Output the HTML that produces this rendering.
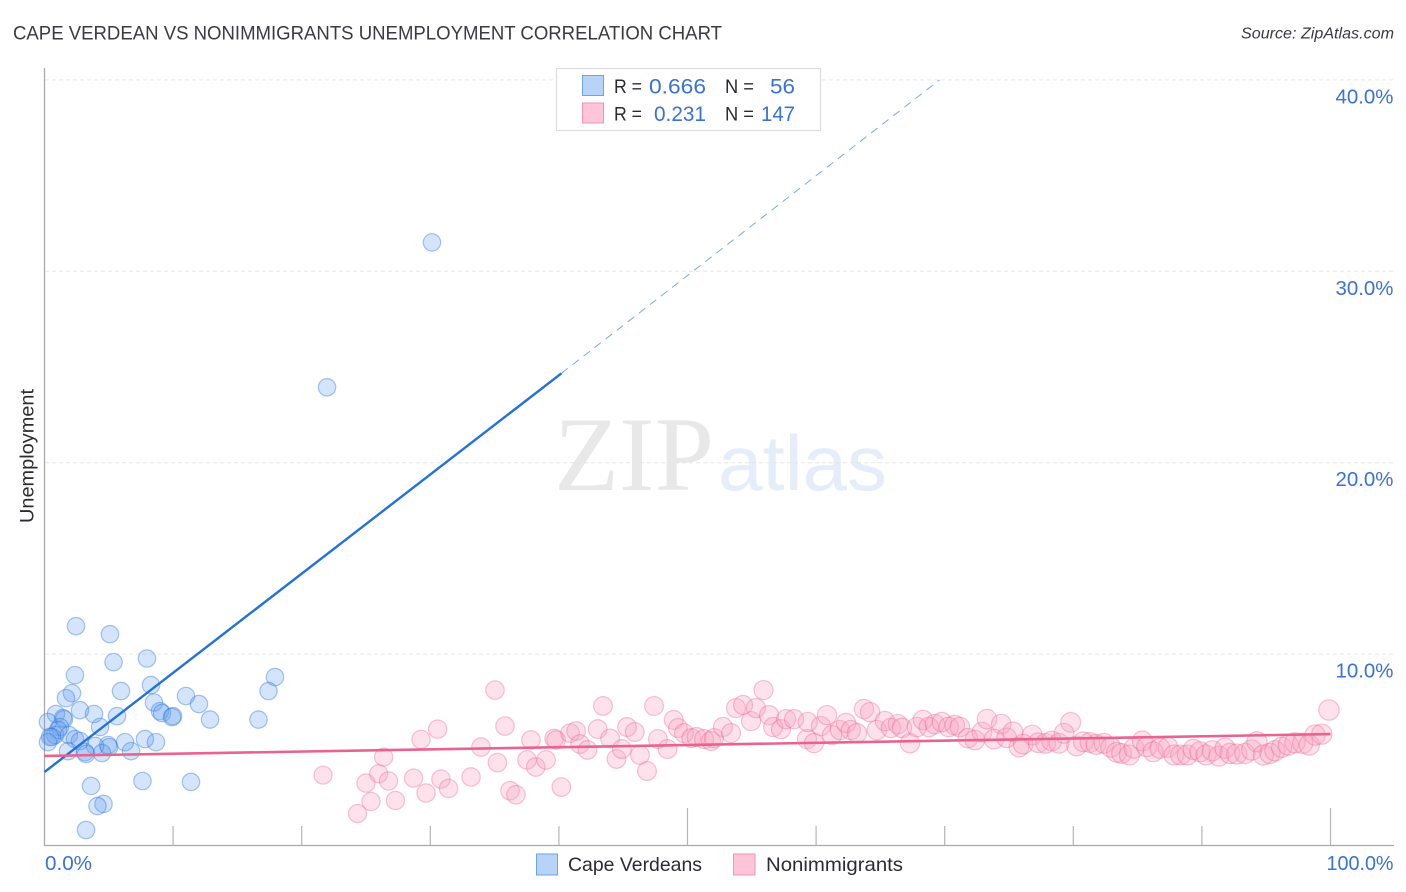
<!DOCTYPE html>
<html><head><meta charset="utf-8"><title>Cape Verdean vs Nonimmigrants Unemployment Correlation Chart</title>
<style>
html,body{margin:0;padding:0;background:#fff;width:1406px;height:892px;overflow:hidden}
svg{display:block;font-family:"Liberation Sans",sans-serif}
</style></head><body>
<svg id="chart" width="1406" height="892" viewBox="0 0 1406 892" xmlns="http://www.w3.org/2000/svg">
<text x="13" y="39.5" font-size="19.5" fill="#3a3a42" textLength="709" lengthAdjust="spacingAndGlyphs">CAPE VERDEAN VS NONIMMIGRANTS UNEMPLOYMENT CORRELATION CHART</text>
<text x="1241" y="38.5" font-size="15.5" font-style="italic" fill="#3a3a42" textLength="153" lengthAdjust="spacingAndGlyphs">Source: ZipAtlas.com</text>
<g>
<text x="554" y="490" font-family="'Liberation Serif',serif" font-size="106" fill="#e8e8e8" textLength="160" lengthAdjust="spacingAndGlyphs">ZIP</text>
<text x="718" y="490" font-size="78" fill="#e4edf9" textLength="169" lengthAdjust="spacingAndGlyphs">atlas</text>
</g>
<g id="grid"></g>
<g id="axes"></g>
<g id="capePoints"></g>
<g id="nonimmPoints"></g>
<g id="trends"></g>
<g id="tickLabels"></g>
<text transform="translate(33.5,456) rotate(-90)" text-anchor="middle" font-size="19" fill="#2b2b33" textLength="134" lengthAdjust="spacingAndGlyphs">Unemployment</text>
<g>
<rect x="556.5" y="68.5" width="264" height="62" fill="#fff" stroke="#dcdcdc" stroke-width="1.2"/>
<rect x="582.5" y="75.5" width="21" height="20" fill="#b7d3f8" stroke="#6ea4e6"/>
<rect x="582.5" y="103" width="21" height="20" fill="#fdc5d7" stroke="#f095b3"/>
<g font-size="19.5" fill="#2b2b33">
<text x="614" y="93" textLength="28" lengthAdjust="spacingAndGlyphs">R =</text>
<text x="725" y="93" textLength="29" lengthAdjust="spacingAndGlyphs">N =</text>
<text x="614" y="120.5" textLength="28" lengthAdjust="spacingAndGlyphs">R =</text>
<text x="725" y="120.5" textLength="29" lengthAdjust="spacingAndGlyphs">N =</text>
</g>
<g font-size="21" fill="#3a72d6" text-anchor="end">
<text x="706" y="93.5" textLength="57" lengthAdjust="spacingAndGlyphs">0.666</text>
<text x="795" y="93.5" textLength="25" lengthAdjust="spacingAndGlyphs">56</text>
<text x="706" y="121" textLength="52" lengthAdjust="spacingAndGlyphs">0.231</text>
<text x="795" y="121" textLength="34" lengthAdjust="spacingAndGlyphs">147</text>
</g>
</g>
<g>
<rect x="536.5" y="854" width="21" height="21" fill="#b7d3f8" stroke="#6ea4e6"/>
<text x="568" y="871" font-size="19.5" fill="#2b2b33" textLength="134" lengthAdjust="spacingAndGlyphs">Cape Verdeans</text>
<rect x="733.5" y="854" width="21.5" height="21" fill="#fdc5d7" stroke="#f095b3"/>
<text x="766" y="871" font-size="19.5" fill="#2b2b33" textLength="137" lengthAdjust="spacingAndGlyphs">Nonimmigrants</text>
</g>
</svg>
<script>
const yTicks = [10, 20, 30, 40];
const yTickLabels = ["10.0%", "20.0%", "30.0%", "40.0%"];
const xTicks = [10, 20, 30, 40, 50, 60, 70, 80, 90, 100];
const xMajorTicks = [50, 100];
const xEndLabels = ["0.0%", "100.0%"];
const capeX = [2.45,5.09,5.37,7.97,2.37,17.92,17.42,5.95,8.28,2.14,1.67,11.0,12.01,8.51,8.98,9.14,9.99,9.91,12.87,16.64,2.76,3.85,5.64,0.89,1.44,1.52,4.32,0.27,1.2,1.05,0.82,0.58,0.43,0.27,1.9,2.37,2.76,7.81,8.67,6.26,4.94,5.02,3.93,1.83,3.15,3.23,4.47,6.73,3.62,7.62,11.39,4.59,4.12,3.23,21.97,30.13];
const capeY = [11.46,11.04,9.58,9.77,8.9,8.8,8.07,8.07,8.38,7.96,7.7,7.81,7.39,7.47,7.02,6.92,6.76,6.71,6.58,6.58,7.07,6.87,6.76,6.87,6.66,6.6,6.19,6.45,6.19,6.03,5.77,5.67,5.67,5.4,5.77,5.56,5.46,5.56,5.4,5.4,5.25,5.14,5.2,4.93,4.88,4.78,4.83,4.93,3.11,3.37,3.32,2.17,2.06,0.81,23.94,31.51];
const nonimmX = [21.66,25.0,25.99,26.75,26.37,25.39,24.34,27.29,28.7,29.67,30.83,31.42,33.17,29.28,30.57,33.94,35.22,35.03,35.81,37.83,37.52,36.2,36.66,38.2,39,40.19,39.63,39.78,40.87,41.34,41.64,42.22,43.02,43.43,43.98,44.48,44.9,45.3,45.9,46.3,46.85,47.4,47.7,48.44,48.93,49.26,49.73,50.3,50.7,51.29,51.83,52.06,52.76,53.38,53.77,54.32,54.94,55.32,55.91,56.34,56.66,57.27,57.66,58.29,59.29,59.84,59.35,60.38,60.85,61.24,61.86,62.33,62.7,63.18,63.72,64.2,64.72,65.35,65.82,66.36,66.68,67.3,67.84,68.31,68.77,69.24,69.78,70.31,70.78,71.18,71.8,72.35,72.9,73.29,74.4,73.83,74.82,75.31,75.78,76.81,76.1,77.28,77.85,78.32,78.89,79.8,79.28,80.26,80.78,81.3,81.77,82.39,82.91,83.37,83.76,84.36,84.72,85.37,85.71,86.22,86.74,87.36,87.83,88.35,88.87,89.33,89.85,90.33,90.81,91.33,91.8,92.18,92.71,93.35,93.87,94.28,94.78,95.29,95.68,96.2,96.72,97.24,97.84,98.35,98.8,99.32,99.88];
const nonimmY = [3.68,3.26,3.75,3.37,4.62,2.3,1.67,2.35,3.52,2.74,3.47,2.98,3.58,5.54,6.08,5.14,4.33,8.12,6.24,5.51,4.47,2.86,2.65,4.1,4.47,3.05,5.59,5.51,5.87,5.98,5.3,4.99,6.08,7.29,5.59,4.52,5.04,6.19,5.93,4.73,3.89,7.29,5.56,5.04,6.56,6.14,5.87,5.61,5.67,5.56,5.46,5.61,6.19,5.87,7.18,7.34,6.5,7.18,8.12,6.81,6.19,6.08,6.6,6.6,5.56,5.35,6.45,6.24,6.81,5.77,6.03,6.4,6.03,5.87,7.13,6.97,6.03,6.5,6.14,6.34,6.14,5.35,6.19,6.56,6.19,6.34,6.45,6.19,6.29,6.19,5.61,5.51,5.93,6.6,6.34,5.56,5.63,5.94,5.14,5.77,5.3,5.37,5.34,5.46,5.34,6.43,5.86,5.2,5.42,5.38,5.28,5.34,5.13,4.87,4.81,4.73,5.08,5.46,5.16,4.9,5.08,5.13,4.73,4.73,4.73,5.02,4.9,4.73,4.95,4.67,5.08,4.81,4.78,4.81,4.99,5.42,4.73,4.81,4.95,5.13,5.25,5.37,5.34,5.25,5.77,5.82,7.08];
const capeTrendX = [0, 40.2, 69.6];
const capeTrendY = [3.84, 24.67, 40];
const nonimmTrendX = [0, 100];
const nonimmTrendY = [4.68, 5.82];

const svgNS = "http://www.w3.org/2000/svg";
function xScale(v) { return 44.5 + v * 12.86; }
function yScale(v) { return 845.5 - v * 19.14; }
function make(tag, parent, attrs) {
  const el = document.createElementNS(svgNS, tag);
  for (const k in attrs) el.setAttribute(k, attrs[k]);
  document.getElementById(parent).appendChild(el);
  return el;
}

yTicks.forEach(function (t) {
  const line = make("line", "grid", {x1: 45, x2: 1394, y1: yScale(t), y2: yScale(t), stroke: "#e6e6e6", "stroke-width": 1, "stroke-dasharray": "4 3"});
  
  
});

const yAxisLine = make("line", "axes", {x1: 44.5, x2: 44.5, y1: 68, y2: 846, stroke: "#aaaaaa", "stroke-width": 1.3});


const xAxisLine = make("line", "axes", {x1: 44, x2: 1394, y1: 845.5, y2: 845.5, stroke: "#aaaaaa", "stroke-width": 1.3});


xTicks.forEach(function (t) {
  const top = xMajorTicks.indexOf(t) >= 0 ? 808 : 826;
  const tick = make("line", "axes", {x1: xScale(t), x2: xScale(t), y1: top, y2: 845, stroke: "#b5b5b5", "stroke-width": 1.2});
  
  
});

capeX.forEach(function (x, i) {
  const c = make("circle", "capePoints", {cx: xScale(x), cy: yScale(capeY[i]), r: 8.7, fill: "rgba(96,156,236,0.27)", stroke: "rgba(50,120,220,0.42)", "stroke-width": 1.2});
  
  
});
nonimmX.forEach(function (x, i) {
  const c = make("circle", "nonimmPoints", {cx: xScale(x), cy: yScale(nonimmY[i]), r: 8.7 + 1.5 * x / 100, fill: "rgba(250,160,190,0.3)", stroke: "rgba(236,100,145,0.38)", "stroke-width": 1.2});
  
  
});

const capeSolid = make("line", "trends", {x1: xScale(capeTrendX[0]), y1: yScale(capeTrendY[0]), x2: xScale(capeTrendX[1]), y2: yScale(capeTrendY[1]), stroke: "#2272dc", "stroke-width": 2.4});


const capeDash = make("line", "trends", {x1: xScale(capeTrendX[1]), y1: yScale(capeTrendY[1]), x2: xScale(capeTrendX[2]), y2: yScale(capeTrendY[2]), stroke: "#7aa9e4", "stroke-width": 1, "stroke-dasharray": "8 6"});


const nonimmLine = make("line", "trends", {x1: xScale(nonimmTrendX[0]), y1: yScale(nonimmTrendY[0]), x2: xScale(nonimmTrendX[1]), y2: yScale(nonimmTrendY[1]), stroke: "#e9638f", "stroke-width": 2.6});



yTickLabels.forEach(function (label, i) {
  const t = make("text", "tickLabels", {x: 1393.5, y: yScale(yTicks[i]) + 23.5, "text-anchor": "end", "font-size": 20, fill: "#3a72d6", textLength: 58, lengthAdjust: "spacingAndGlyphs"});
  t.textContent = label;
  
  
});
const x0Label = make("text", "tickLabels", {x: 45, y: 870, "font-size": 20, fill: "#3a72d6", textLength: 47, lengthAdjust: "spacingAndGlyphs"});
x0Label.textContent = xEndLabels[0];


const x100Label = make("text", "tickLabels", {x: 1393.5, y: 870, "text-anchor": "end", "font-size": 20, fill: "#3a72d6", textLength: 67, lengthAdjust: "spacingAndGlyphs"});
x100Label.textContent = xEndLabels[1];


</script>
</body></html>
